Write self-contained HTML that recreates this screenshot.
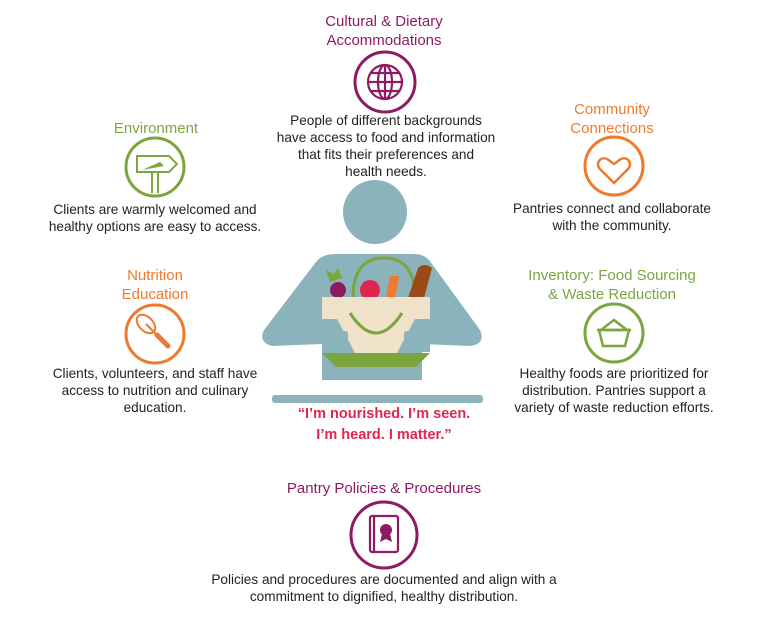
<!DOCTYPE html>
<html><head><meta charset="utf-8"><style>
body{margin:0;width:768px;height:627px;background:#fff;overflow:hidden;position:relative;font-family:"Liberation Sans",sans-serif}
.t{position:absolute;text-align:center;font-size:15px;line-height:18.5px;transform:translateX(-50%);white-space:nowrap}
.d{position:absolute;text-align:center;font-size:13.6px;line-height:17px;color:#222;transform:translateX(-50%);white-space:nowrap}
.p{color:#8e1b62}.o{color:#ee7a2f}.g{color:#7ba63e}
</style></head><body>
<div class="t p" style="left:384px;top:13px">Cultural &amp; Dietary<br>Accommodations</div>
<div class="d" style="left:386px;top:112px">People of different backgrounds<br>have access to food and information<br>that fits their preferences and<br>health needs.</div>
<div class="t g" style="left:156px;top:120px">Environment</div>
<div class="d" style="left:155px;top:201px">Clients are warmly welcomed and<br>healthy options are easy to access.</div>
<div class="t o" style="left:612px;top:101px">Community<br>Connections</div>
<div class="d" style="left:612px;top:200px">Pantries connect and collaborate<br>with the community.</div>
<div class="t o" style="left:155px;top:267px">Nutrition<br>Education</div>
<div class="d" style="left:155px;top:365px">Clients, volunteers, and staff have<br>access to nutrition and culinary<br>education.</div>
<div class="t g" style="left:612px;top:267px">Inventory: Food Sourcing<br>&amp; Waste Reduction</div>
<div class="d" style="left:614px;top:365px">Healthy foods are prioritized for<br>distribution. Pantries support a<br>variety of waste reduction efforts.</div>
<div class="t" style="left:384px;top:404px;color:#e0264f;font-weight:bold;font-size:14.5px;line-height:21px">“I’m nourished. I’m seen.<br>I’m heard. I matter.”</div>
<div class="t p" style="left:384px;top:480px">Pantry Policies &amp; Procedures</div>
<div class="d" style="left:384px;top:571px">Policies and procedures are documented and align with a<br>commitment to dignified, healthy distribution.</div>
<svg width="768" height="627" style="position:absolute;left:0;top:0" fill="none">
<g stroke-width="3">
<circle cx="385" cy="82" r="30" stroke="#8e1b62"/>
<circle cx="155" cy="167" r="29" stroke="#7ba63e"/>
<circle cx="614" cy="166" r="29" stroke="#ee7a2f"/>
<circle cx="155" cy="334" r="29" stroke="#ee7a2f"/>
<circle cx="614" cy="333" r="29" stroke="#7ba63e"/>
<circle cx="384" cy="535" r="33" stroke="#8e1b62"/>
</g>
<g stroke="#8e1b62" stroke-width="2.2">
<circle cx="385" cy="82" r="17"/><ellipse cx="385" cy="82" rx="7" ry="17"/>
<line x1="385" y1="65" x2="385" y2="99"/><line x1="368" y1="82" x2="402" y2="82"/>
<line x1="371" y1="73" x2="399" y2="73"/><line x1="371" y1="91" x2="399" y2="91"/></g>
<g stroke="#7ba63e" stroke-width="2"><path d="M137 156h32l8 8-8 8h-32z"/><line x1="152" y1="172" x2="152" y2="193"/><line x1="158" y1="172" x2="158" y2="193"/></g>
<path d="M142 170l18-8 4 4z" fill="#7ba63e"/>
<path d="M614 183l-14-14c-5-5 0-13 7-10l7 5 7-5c7-3 12 5 7 10z" stroke="#ee7a2f" stroke-width="2.5"/>
<g stroke="#ee7a2f" stroke-width="2"><ellipse cx="146" cy="324" rx="7" ry="11" transform="rotate(-45 146 324)"/><line x1="146" y1="324" x2="158" y2="336"/></g>
<line x1="157" y1="335" x2="168" y2="346" stroke="#ee7a2f" stroke-width="5" stroke-linecap="round"/>
<g stroke="#7ba63e" stroke-width="2.5"><path d="M599 330h30l-4 16h-22z"/><path d="M601 330l13-10 13 10"/><line x1="597" y1="330" x2="631" y2="330"/></g>
<g stroke="#8e1b62" stroke-width="2.2"><rect x="370" y="516" width="28" height="36" rx="2"/><line x1="374" y1="516" x2="374" y2="552"/></g>
<circle cx="386" cy="530" r="6" fill="#8e1b62"/><path d="M382 534l-2 8 6-3 6 3-2-8" fill="#8e1b62"/>
<circle cx="375" cy="212" r="32" fill="#8bb3bc"/>
<path d="M336 254h78q12 0 18 10l48 66q6 14-10 16l-48-2v36h-100v-36l-50 2q-14-4-8-16l52-68q6-8 20-8z" fill="#8bb3bc"/>
<rect x="272" y="395" width="211" height="8" rx="3" fill="#8bb3bc"/>
<path d="M353 298q0-40 31-40 31 0 31 40" stroke="#7ba63e" stroke-width="3"/>
<circle cx="338" cy="290" r="8" fill="#8e1b62"/>
<path d="M330 282l-4-12 8 4 4-6 4 10" fill="#7ba63e"/>
<circle cx="370" cy="290" r="10" fill="#e0264f"/>
<path d="M386 298l4-22h9l-4 22z" fill="#ee7a2f"/>
<path d="M408 298l10-30q6-6 14 0l-8 30z" fill="#9b4a17"/>
<rect x="322" y="297" width="108" height="22" fill="#efe2c8"/>
<path d="M337 319h78l-18 34h-42z" fill="#efe2c8"/>
<path d="M350 313q26 40 52 0" stroke="#7ba63e" stroke-width="3"/>
<path d="M322 353h108l-14 14h-80z" fill="#7ba63e"/>
<path d="M322 340q10-14 26-8l0 20h-26z" fill="#8bb3bc"/>
<path d="M430 340q-10-14-26-8l0 20h26z" fill="#8bb3bc"/>
</svg>
</body></html>
